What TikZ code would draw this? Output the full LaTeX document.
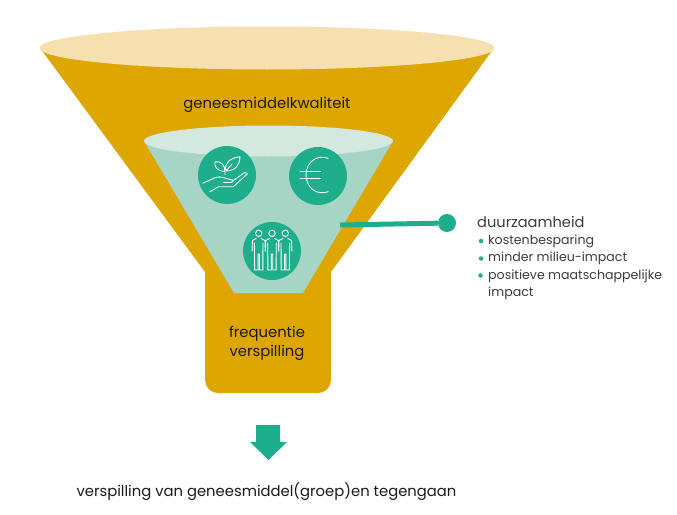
\documentclass[tikz,border=0pt]{standalone}
\usepackage{fontspec}
\setmainfont{Poppins}
\usetikzlibrary{shapes.geometric,positioning}
\definecolor{funnelgold}{HTML}{DEA600}
\definecolor{rimgold}{HTML}{F6E0B0}
\definecolor{coneteal}{HTML}{A7D5C5}
\definecolor{rimteal}{HTML}{D3E9E0}
\definecolor{darkteal}{HTML}{1FAE8C}
\definecolor{inktext}{HTML}{1A1A1A}
\tikzset{
  rim/.style={
    ellipse,
    inner sep=0pt
  },
  iconbadge/.style={
    circle,
    fill=darkteal,
    minimum size=58pt,
    inner sep=0pt
  },
  iconline/.style={
    draw=white,
    line width=0.9pt,
    line join=round,
    line cap=round
  },
  funneltext/.style={
    text=inktext,
    align=center,
    font=\fontsize{14.8}{19}\selectfont
  },
  listtext/.style={
    text=inktext!85,
    anchor=west,
    inner sep=0pt,
    align=left,
    font=\fontsize{12.6}{17.5}\selectfont
  },
  listdot/.style={
    circle,
    fill=darkteal,
    minimum size=4.5pt,
    inner sep=0pt,
    left=4.5pt of #1
  }
}
\begin{document}
\begin{tikzpicture}[x=1pt, y=-1pt]
    \useasboundingbox (0,0) rectangle (677,514);

    % funnel
    \fill[funnelgold] (40,48) -- (205,272) -- (205,380)
        arc[start angle=180, end angle=270, x radius=13, y radius=-13] -- (318,393)
        arc[start angle=270, end angle=360, x radius=13, y radius=-13] -- (331,272) -- (494,48) -- cycle;
    \node[rim, fill=rimgold, minimum width=455pt, minimum height=43pt] (toprim) at (267,48) {};

    % inner cone
    \fill[coneteal] (144,141) -- (234,293) -- (303,293) -- (393,141) -- cycle;
    \node[rim, fill=rimteal, minimum width=249pt, minimum height=31pt] (innerrim) at (268.5,141) {};

    \node[funneltext] (quality) at (267,105) {geneesmiddelkwaliteit};
    \node[funneltext] (waste) at (267,343) {frequentie\\verspilling};

    \node[iconbadge] (plant) at (227,175) {};
    \node[iconbadge] (euro) at (318,176) {};
    \node[iconbadge] (people) at (272,251) {};

    % plant in hand
    \draw[iconline] (202.7,183.3) -- (216,177.3) .. controls (222,176) and (226,179) .. (232.7,180) .. controls (234,182) and (232,183) .. (223.3,182.3);
    \draw[iconline] (232.7,181) -- (245,172.3) -- (247.3,174) -- (233.3,186.7) -- (218.3,186.7) -- (210,191.7);
    \draw[iconline] (225,175) -- (225,171.5) .. controls (217,171) and (214,167) .. (215,161.7) .. controls (221,161) and (225,165) .. (225,171.5);
    \draw[iconline] (226,171) .. controls (224,163) and (230,158) .. (240,156.7) .. controls (240,164) and (236,171) .. (226,171) -- (232,164);

    % euro sign
    \draw[iconline] (328.3,158.3) .. controls (316,154) and (306,163) .. (306,175) .. controls (306,187) and (316,196) .. (328.3,191.7);
    \draw[iconline] (300,171.7) -- (320.7,171.7) (300,178.3) -- (320.7,178.3);

    % three persons
    \foreach \px in {258.7,272,285.3} {
        \draw[iconline] (\px,233.3) circle[radius=3.2];
        \draw[iconline] (\px-2.5,238.5) -- (\px-6.3,240.5) -- (\px-6.6,251) (\px-4.3,243) -- (\px-4.1,270) -- (\px-0.7,270) -- (\px-0.7,254) -- (\px+0.7,254) -- (\px+0.7,270) -- (\px+4.1,270) -- (\px+4.3,243) (\px+6.6,251) -- (\px+6.3,240.5) -- (\px+2.5,238.5);
    }

    % callout
    \coordinate (conewall) at (340,225);
    \node[circle, fill=darkteal, minimum size=18pt, inner sep=0pt] (calloutdot) at (447,223) {};
    \draw[darkteal, line width=5pt] (conewall) -- (calloutdot);

    \node[listtext, font=\fontsize{14.6}{19}\selectfont] (sustain) at (477,222.5) {duurzaamheid};
    \node[listtext] (cost) at (488,241) {kostenbesparing};
    \node[listtext] (milieu) at (488,258.5) {minder milieu-impact};
    \node[listtext, anchor=north west] (social) at (488,269.5) {positieve maatschappelijke\\impact};
    \node[listdot=cost] (dotcost) {};
    \node[listdot=milieu] (dotmilieu) {};
    \node[circle, fill=darkteal, minimum size=4.5pt, inner sep=0pt] (dotsocial) at (480.5,275.5) {};

    % block arrow
    \fill[darkteal] (256,425) -- (280,425) -- (280,442) -- (287,442) -- (268.5,460) -- (250,442) -- (256,442) -- cycle;

    \node[funneltext] (result) at (266.5,491.5) {verspilling van geneesmiddel(groep)en tegengaan};
\end{tikzpicture}
\end{document}
